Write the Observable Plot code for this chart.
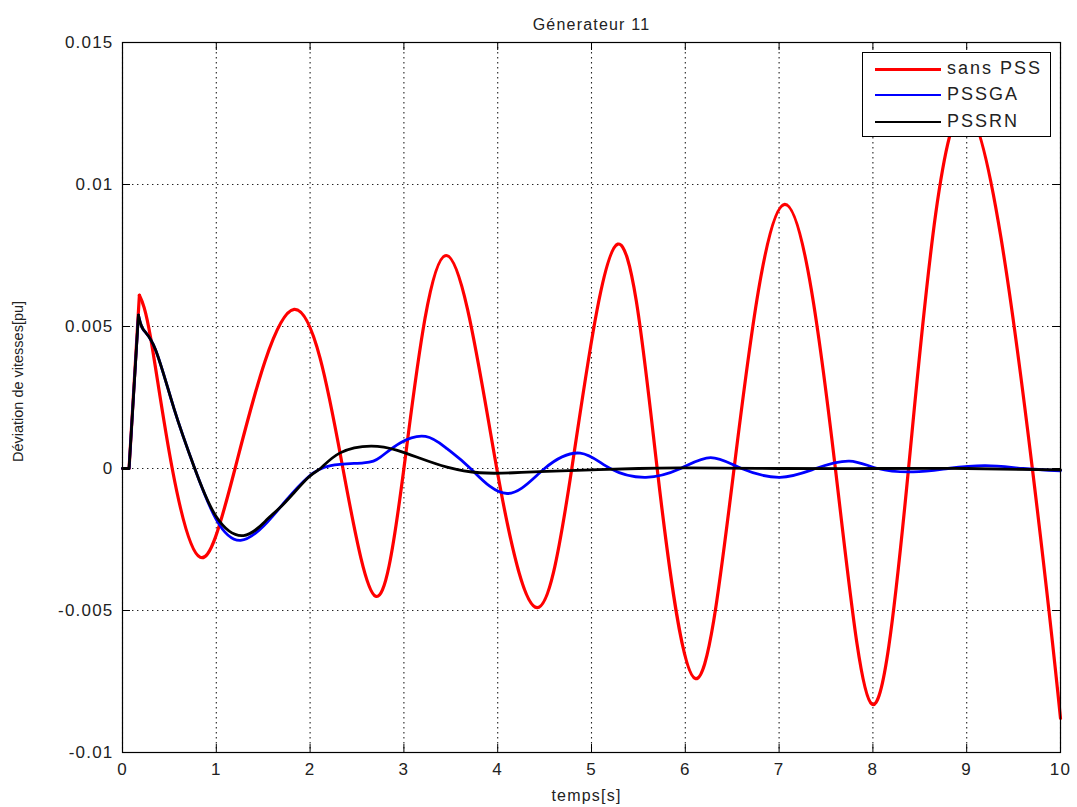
<!DOCTYPE html>
<html>
<head>
<meta charset="utf-8">
<script src="https://cdn.jsdelivr.net/npm/d3@7"></script>
<script src="https://cdn.jsdelivr.net/npm/@observablehq/plot@0.6"></script>
<style>
  html, body { margin: 0; padding: 0; background: #fff; }
  #wrap { position: relative; width: 1077px; height: 807px; }
  #legend { position: absolute; left: 862px; top: 52px; width: 189px; height: 85px;
    border: 1px solid #000; background: #fff; box-sizing: border-box;
    font-family: "Liberation Sans", Arial, sans-serif; font-size: 18px; color: #222; }
  .row { position: absolute; left: 0; height: 26px; width: 100%; }
  .sw { position: absolute; left: 12px; width: 66px; top: 12px; height: 0; border-top-style: solid; }
  .lb { position: absolute; left: 84px; top: 1px; letter-spacing: 2px; line-height: 22px; }
</style>
</head>
<body>
<div id="wrap"></div>
<script>
// ---- data ----
const title = "Génerateur 11";
const xLabel = "temps[s]";
const yLabel = "Déviation de vitesses[pu]";
const seriesNames = ["sans PSS", "PSSGA", "PSSRN"];
const seriesColors = ["#ff0000", "#0000ff", "#000000"];
const xTicks = [0, 1, 2, 3, 4, 5, 6, 7, 8, 9, 10];
const yTicks = [-0.01, -0.005, 0, 0.005, 0.01, 0.015];
const yTickLabels = ["-0.01", "-0.005", "0", "0.005", "0.01", "0.015"];

// sans PSS (red): start, spike, then extremes and zero crossings
const redT = [0, 0.07, 0.18, 0.30, 0.53, 0.83, 1.20, 1.83, 2.35, 2.70, 3.00, 3.45, 3.99, 4.42, 4.79, 5.28, 5.70, 6.11, 6.52, 7.06, 7.60, 7.99, 8.38, 8.98, 9.70, 10];
const redV = [0, 0, 0.0061, 0.0046, 0, -0.00313, 0, 0.0056, 0, -0.0045, 0, 0.0075, 0, -0.0049, 0, 0.0079, 0, -0.0074, 0, 0.0093, 0, -0.0083, 0, 0.0127, 0, -0.0088];

// PSSGA (blue)
const blueT = [0, 0.07, 0.17, 0.22, 0.35, 0.55, 0.77, 1.0, 1.26, 1.54, 1.75, 1.98, 2.22, 2.57, 2.75, 2.96, 3.23, 3.46, 3.71, 4.10, 4.50, 4.88, 5.20, 5.58, 5.95, 6.27, 6.60, 7.01, 7.39, 7.75, 8.05, 8.43, 8.80, 9.20, 9.60, 10];
const blueV = [0, 0, 0.0054, 0.0049, 0.0042, 0.0021, 0, -0.0018, -0.00253, -0.0019, -0.0011, -0.0003, 0.0001, 0.0002, 0.0004, 0.0009, 0.00113, 0.0007, 0, -0.00088, 0, 0.00054, 0, -0.00031, 0, 0.00038, 0, -0.00031, 0, 0.00026, 0, -0.00012, 0, 0.0001, 0, -0.00008];

// PSSRN (black)
const blackT = [0, 0.07, 0.17, 0.22, 0.35, 0.55, 0.77, 1.0, 1.29, 1.54, 1.72, 1.98, 2.11, 2.32, 2.65, 2.93, 3.18, 3.46, 3.81, 4.17, 4.52, 5.0, 5.5, 6.0, 7.0, 8.0, 9.0, 10];
const blackV = [0, 0, 0.0054, 0.0049, 0.0042, 0.0021, 0, -0.0017, -0.00236, -0.0018, -0.00124, -0.00032, 0, 0.00055, 0.00079, 0.00064, 0.00035, 0.00005, -0.00015, -0.00015, -0.0001, -0.00005, 0, 0.00002, 0, 0, 0, -0.00005];

// ---- build tables ----
const toRows = (ts, vs, name) => ts.map((t, i) => ({t, v: vs[i], name}));
// split each series at its initial spike: straight step before it, smooth spline after it
function split(ts, vs, name) {
  const rows = toRows(ts, vs, name);
  const k = d3.maxIndex(vs.slice(0, 4));
  return [rows.slice(0, k + 1), rows.slice(k)];
}
const [redA, redB] = split(redT, redV, seriesNames[0]);
const [blueA, blueB] = split(blueT, blueV, seriesNames[1]);
const [blackA, blackB] = split(blackT, blackV, seriesNames[2]);

const W = 1077, H = 807;
const mL = 122, mR = 17, mT = 42, mB = 55;
const plotH = H - mT - mB, plotW = W - mL - mR;
const tickLen = 8;
const font = '"Liberation Sans", Arial, sans-serif';
const gridStyle = {stroke: "#222", strokeWidth: 1.1, strokeDasharray: "1.4,3.6"};

const lineMarks = [];
[[redA, redB, 3.2], [blueA, blueB, 2.8], [blackA, blackB, 2.8]].forEach(([a, b, w], i) => {
  lineMarks.push(Plot.line(a, {x: "t", y: "v", stroke: seriesColors[i], strokeWidth: w, curve: "linear", strokeLinejoin: "round"}));
  lineMarks.push(Plot.line(b, {x: "t", y: "v", stroke: seriesColors[i], strokeWidth: w, curve: "natural", strokeLinejoin: "round"}));
});

const chart = Plot.plot({
  width: W, height: H,
  marginLeft: mL, marginRight: mR, marginTop: mT, marginBottom: mB,
  style: {fontFamily: font, fontSize: "17px", color: "#222", background: "#fff", overflow: "visible", letterSpacing: "1.2px"},
  x: {domain: [0, 10]},
  y: {domain: [-0.01, 0.015]},
  marks: [
    Plot.ruleX(xTicks, {x: d => d, ...gridStyle}),
    Plot.ruleY(yTicks, {y: d => d, ...gridStyle}),
    Plot.tickX(xTicks, {x: d => d, insetTop: plotH - tickLen, stroke: "#000"}),
    Plot.tickX(xTicks, {x: d => d, insetBottom: plotH - tickLen, stroke: "#000"}),
    Plot.tickY(yTicks, {y: d => d, insetRight: plotW - tickLen, stroke: "#000"}),
    Plot.tickY(yTicks, {y: d => d, insetLeft: plotW - tickLen, stroke: "#000"}),
    ...lineMarks,
    Plot.frame({stroke: "#000", strokeWidth: 1.2}),
    Plot.axisX(xTicks, {anchor: "bottom", tickSize: 0, tickPadding: 10, tickFormat: d => String(d), label: null}),
    Plot.axisY(yTicks, {anchor: "left", tickSize: 0, tickPadding: 9, tickFormat: d => yTickLabels[yTicks.indexOf(d)], label: null}),
    Plot.text([title], {text: d => d, frameAnchor: "top", lineAnchor: "bottom", dy: -13, fontSize: 16, fill: "#222"}),
    Plot.text([xLabel], {text: d => d, frameAnchor: "bottom", lineAnchor: "middle", dy: 43, dx: -5, fontSize: 16, fill: "#222"}),
    Plot.text([yLabel], {text: d => d, frameAnchor: "left", textAnchor: "middle", rotate: -90, dx: -104, dy: -16, fontSize: 14.5, fill: "#222"})
  ]
});

d3.select(chart).selectAll("text").filter(function() { return this.textContent === yLabel; })
  .style("letter-spacing", "0px");

const wrap = document.getElementById("wrap");
wrap.appendChild(chart);

// legend box overlay
const legend = document.createElement("div");
legend.id = "legend";
seriesNames.forEach((name, i) => {
  const row = document.createElement("div");
  row.className = "row";
  row.style.top = (3 + i * 26.3) + "px";
  const sw = document.createElement("div");
  sw.className = "sw";
  sw.style.borderTopColor = seriesColors[i];
  sw.style.borderTopWidth = (i === 0 ? 3 : 2.5) + "px";
  const lb = document.createElement("div");
  lb.className = "lb";
  lb.textContent = name;
  row.appendChild(sw);
  row.appendChild(lb);
  legend.appendChild(row);
});
wrap.appendChild(legend);
</script>
</body>
</html>
